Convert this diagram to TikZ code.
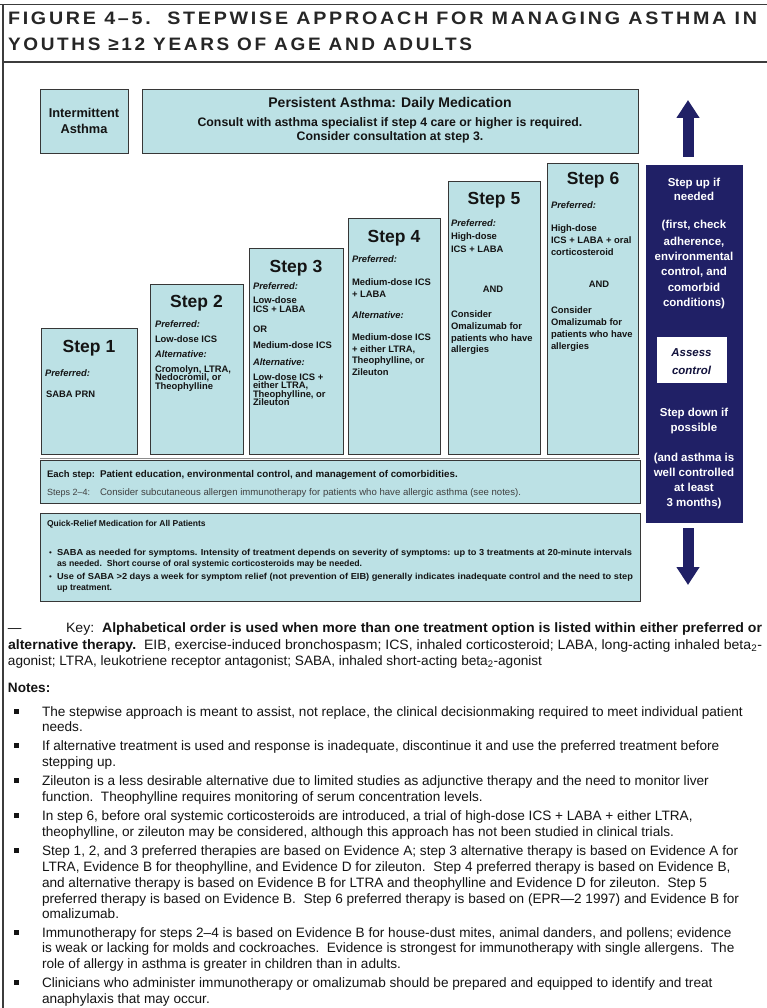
\documentclass[tikz,border=0pt]{standalone}
\usepackage{fontspec}
\setmainfont{Liberation Sans}
\newfontfamily\titlefont[LetterSpace=14]{Liberation Sans}
\usepackage{graphicx}
\usetikzlibrary{arrows.meta}
\definecolor{boxblue}{RGB}{188,225,229}
\definecolor{navyblue}{RGB}{32,32,102}
\definecolor{edgegray}{RGB}{55,55,55}
\definecolor{ink}{RGB}{20,20,20}
\definecolor{rulegray}{RGB}{60,60,60}
\newcommand{\fitto}[2]{\resizebox{#1}{\height}{#2}}
\begin{document}
\begin{tikzpicture}[x=1pt,y=-1pt,
  panel/.style={draw=edgegray, fill=boxblue, line width=0.9pt, inner sep=0pt, outer sep=0pt, anchor=north west},
  lt/.style={anchor=base west, inner sep=0pt, outer sep=0pt, text=ink},
  ct/.style={anchor=base, inner sep=0pt, outer sep=0pt, text=ink},
  stephead/.style={ct, font=\fontsize{17.5}{20}\selectfont\bfseries},
  pref/.style={lt, font=\fontsize{9.4}{10}\selectfont\bfseries\itshape},
  med/.style={lt, font=\fontsize{9.4}{10}\selectfont\bfseries},
  medc/.style={ct, font=\fontsize{9.4}{10}\selectfont\bfseries},
  side/.style={ct, text=white, font=\fontsize{11.5}{13}\selectfont\bfseries},
  note/.style={lt, font=\fontsize{13.6}{15}\selectfont},
  sq/.style={fill=ink, inner sep=0pt, minimum size=5pt},
  bigarrow/.style={draw=navyblue, line width=11pt, -{Triangle[width=22pt,length=18pt]}}]
\useasboundingbox (0,0) rectangle (767,1008);
\fill[white] (0,0) rectangle (767,1008);
% frame
\draw[rulegray, line width=1.5pt] (0,4.5) -- (767,4.5);
\draw[rulegray, line width=1.5pt] (3,62) -- (767,62);
\draw[rulegray, line width=1.5pt] (3,4.5) -- (3,1008);
% title
\node[lt, text=black!85, font=\titlefont\bfseries\fontsize{18}{20}\selectfont] (title1) at (8,25) {\fitto{749pt}{FIGURE 4–5.\ \ STEPWISE APPROACH FOR MANAGING ASTHMA IN}};
\node[lt, text=black!85, font=\titlefont\bfseries\fontsize{18}{20}\selectfont] (title2) at (8,51) {\fitto{464pt}{YOUTHS ≥12 YEARS OF AGE AND ADULTS}};
% top boxes
\node[panel, minimum width=88pt, minimum height=64pt] (inter) at (40,89) {};
\node[panel, minimum width=496pt, minimum height=64pt] (persist) at (142,89) {};
\node[ct, font=\fontsize{12.8}{14}\selectfont\bfseries] (interA) at (84,118) {Intermittent};
\node[ct, font=\fontsize{12.8}{14}\selectfont\bfseries] (interB) at (84,134) {Asthma};
\node[ct, font=\fontsize{14}{16}\selectfont\bfseries] (persA) at (390,108) {Persistent Asthma: Daily Medication};
\node[ct, font=\fontsize{12.3}{14}\selectfont\bfseries] (persB) at (390,127) {Consult with asthma specialist if step 4 care or higher is required.};
\node[ct, font=\fontsize{12.3}{14}\selectfont\bfseries] (persC) at (390,141) {Consider consultation at step 3.};
% step boxes
\node[panel, minimum width=96pt, minimum height=126pt] (s1) at (41,328) {};
\node[panel, minimum width=93pt, minimum height=170pt] (s2) at (150,284) {};
\node[panel, minimum width=94pt, minimum height=206pt] (s3) at (249,248) {};
\node[panel, minimum width=92pt, minimum height=236pt] (s4) at (348,218) {};
\node[panel, minimum width=92pt, minimum height=273pt] (s5) at (448,181) {};
\node[panel, minimum width=91pt, minimum height=291pt] (s6) at (547,163) {};
\draw[black!45, line width=1pt] (40,458) -- (640,458);
% step 1
\node[stephead] (s1h) at (89,352) {Step 1};
\node[pref] (s1p) at (45,376) {Preferred:};
\node[med] (s1a) at (46,397) {SABA PRN};
% step 2
\node[stephead] (s2h) at (196.5,307) {Step 2};
\node[pref] (s2p) at (155,327.5) {Preferred:};
\node[med] (s2a) at (155,342.5) {Low-dose ICS};
\node[pref] (s2q) at (155,357.5) {Alternative:};
\node[med] (s2b) at (155,372) {Cromolyn, LTRA,};
\node[med] (s2c) at (155,380.5) {Nedocromil, or};
\node[med] (s2d) at (155,389) {Theophylline};
% step 3
\node[stephead] (s3h) at (296,272) {Step 3};
\node[pref] (s3p) at (253,289) {Preferred:};
\node[med] (s3a) at (253,303) {Low-dose};
\node[med] (s3b) at (253,312) {ICS + LABA};
\node[med] (s3c) at (253,332.5) {OR};
\node[med] (s3d) at (253,348.5) {Medium-dose ICS};
\node[pref] (s3q) at (253,365) {Alternative:};
\node[med] (s3e) at (253,380) {Low-dose ICS +};
\node[med] (s3f) at (253,388.5) {either LTRA,};
\node[med] (s3g) at (253,397) {Theophylline, or};
\node[med] (s3i) at (253,405.5) {Zileuton};
% step 4
\node[stephead] (s4h) at (394,242) {Step 4};
\node[pref] (s4p) at (352,262) {Preferred:};
\node[med] (s4a) at (352,285) {Medium-dose ICS};
\node[med] (s4b) at (352,297) {+ LABA};
\node[pref] (s4q) at (352,318.5) {Alternative:};
\node[med] (s4c) at (352,340) {Medium-dose ICS};
\node[med] (s4d) at (352,352) {+ either LTRA,};
\node[med] (s4e) at (352,363.5) {Theophylline, or};
\node[med] (s4f) at (352,375) {Zileuton};
% step 5
\node[stephead] (s5h) at (494,205) {Step 5};
\node[pref] (s5p) at (451,226) {Preferred:};
\node[med] (s5a) at (451,240) {High-dose};
\node[med] (s5b) at (451,252) {ICS + LABA};
\node[medc] (s5c) at (493,292) {AND};
\node[med] (s5d) at (451,317) {Consider};
\node[med] (s5e) at (451,329) {Omalizumab for};
\node[med] (s5f) at (451,341) {patients who have};
\node[med] (s5g) at (451,352.5) {allergies};
% step 6
\node[stephead] (s6h) at (593,185) {Step 6};
\node[pref] (s6p) at (551,209) {Preferred:};
\node[med] (s6a) at (551,232) {High-dose};
\node[med] (s6b) at (551,243.5) {ICS + LABA + oral};
\node[med] (s6c) at (551,255) {corticosteroid};
\node[medc] (s6d) at (599,287) {AND};
\node[med] (s6e) at (551,313.5) {Consider};
\node[med] (s6f) at (551,325) {Omalizumab for};
\node[med] (s6g) at (551,337) {patients who have};
\node[med] (s6i) at (551,349) {allergies};
% each step box
\node[panel, minimum width=600pt, minimum height=43pt] (each) at (40,460) {};
\node[lt, font=\fontsize{9.5}{12}\selectfont\bfseries] (eachA) at (47,477) {Each step:};
\node[lt, font=\fontsize{9.8}{12}\selectfont\bfseries] (eachB) at (100,477) {Patient education, environmental control, and management of comorbidities.};
\node[lt, text=black!75, font=\fontsize{9}{11}\selectfont] (eachC) at (47,495) {Steps 2–4:};
\node[lt, text=black!75, font=\fontsize{9.6}{11}\selectfont] (eachD) at (100,495) {Consider subcutaneous allergen immunotherapy for patients who have allergic asthma (see notes).};
% quick relief box
\node[panel, minimum width=600pt, minimum height=88pt] (quick) at (40,513) {};
\node[lt, font=\fontsize{8.5}{10}\selectfont\bfseries] (qT) at (47,526) {Quick-Relief Medication for All Patients};
\node[lt, font=\fontsize{8}{10}\selectfont] (qb1) at (49,555) {•};
\node[lt, font=\fontsize{8}{10}\selectfont] (qb2) at (49,579) {•};
\node[lt, font=\fontsize{8.7}{10}\selectfont\bfseries] (q1) at (57,555) {\fitto{575pt}{SABA as needed for symptoms. Intensity of treatment depends on severity of symptoms: up to 3 treatments at 20-minute intervals}};
\node[lt, font=\fontsize{8.7}{10}\selectfont\bfseries] (q2) at (57,566) {as needed.\ \ Short course of oral systemic corticosteroids may be needed.};
\node[lt, font=\fontsize{8.7}{10}\selectfont\bfseries] (q3) at (57,579) {\fitto{576pt}{Use of SABA >2 days a week for symptom relief (not prevention of EIB) generally indicates inadequate control and the need to step}};
\node[lt, font=\fontsize{8.7}{10}\selectfont\bfseries] (q4) at (57,590) {up treatment.};
% control panel
\node[fill=navyblue, draw=navyblue, minimum width=96pt, minimum height=357pt, anchor=north west, inner sep=0pt] (ctrl) at (646,165) {};
\node[fill=white, draw=white, minimum width=69pt, minimum height=45pt, anchor=north west, inner sep=0pt] (assess) at (657,337) {};
\coordinate (upfoot) at (688,157);
\coordinate (uptip) at (688,100);
\coordinate (dnfoot) at (688,528);
\coordinate (dntip) at (688,585);
\draw[bigarrow] (upfoot) -- (uptip);
\draw[bigarrow] (dnfoot) -- (dntip);
\node[side] (c1) at (694,187) {Step up if};
\node[side] (c2) at (694,201) {needed};
\node[side] (c3) at (694,229) {(first, check};
\node[side] (c4) at (694,245) {adherence,};
\node[side] (c5) at (694,260) {environmental};
\node[side] (c6) at (694,275) {control, and};
\node[side] (c7) at (694,291) {comorbid};
\node[side] (c8) at (694,306) {conditions)};
\node[ct, text=navyblue!60!black, font=\fontsize{11.5}{13}\selectfont\bfseries\itshape] (a1) at (691.5,356) {Assess};
\node[ct, text=navyblue!60!black, font=\fontsize{11.5}{13}\selectfont\bfseries\itshape] (a2) at (691.5,374) {control};
\node[side] (d1) at (694,416) {Step down if};
\node[side] (d2) at (694,431) {possible};
\node[side] (d3) at (694,461) {(and asthma is};
\node[side] (d4) at (694,476) {well controlled};
\node[side] (d5) at (694,491) {at least};
\node[side] (d6) at (694,506) {3 months)};
% key
\node[note] (k0) at (8,632) {—};
\node[note] (k1) at (66,632) {\fitto{696pt}{Key:\ \ \textbf{Alphabetical order is used when more than one treatment option is listed within either preferred or}}};
\node[note] (k2) at (8,649) {\fitto{754pt}{\textbf{alternative therapy.}\ \ EIB, exercise-induced bronchospasm; ICS, inhaled corticosteroid; LABA, long-acting inhaled beta\textsubscript{2}-}};
\node[note] (k3) at (8,665) {agonist; LTRA, leukotriene receptor antagonist; SABA, inhaled short-acting beta\textsubscript{2}-agonist};
% notes
\node[note, font=\fontsize{13.6}{15}\selectfont\bfseries] (nh) at (8,692) {Notes:};
\node[sq] (q1s) at (16,711.5) {};
\node[note] (n1a) at (42,716) {The stepwise approach is meant to assist, not replace, the clinical decisionmaking required to meet individual patient};
\node[note] (n1b) at (42,731) {needs.};
\node[sq] (q2s) at (16,745.5) {};
\node[note] (n2a) at (42,750) {If alternative treatment is used and response is inadequate, discontinue it and use the preferred treatment before};
\node[note] (n2b) at (42,766) {stepping up.};
\node[sq] (q3s) at (16,780.5) {};
\node[note] (n3a) at (42,785) {Zileuton is a less desirable alternative due to limited studies as adjunctive therapy and the need to monitor liver};
\node[note] (n3b) at (42,801) {function.\ \ Theophylline requires monitoring of serum concentration levels.};
\node[sq] (q4s) at (16,815.5) {};
\node[note] (n4a) at (42,820) {In step 6, before oral systemic corticosteroids are introduced, a trial of high-dose ICS + LABA + either LTRA,};
\node[note] (n4b) at (42,836) {theophylline, or zileuton may be considered, although this approach has not been studied in clinical trials.};
\node[sq] (q5s) at (16,850.5) {};
\node[note] (n5a) at (42,855) {Step 1, 2, and 3 preferred therapies are based on Evidence A; step 3 alternative therapy is based on Evidence A for};
\node[note] (n5b) at (42,871) {LTRA, Evidence B for theophylline, and Evidence D for zileuton.\ \ Step 4 preferred therapy is based on Evidence B,};
\node[note] (n5c) at (42,887) {and alternative therapy is based on Evidence B for LTRA and theophylline and Evidence D for zileuton.\ \ Step 5};
\node[note] (n5d) at (42,903) {preferred therapy is based on Evidence B.\ \ Step 6 preferred therapy is based on (EPR—2 1997) and Evidence B for};
\node[note] (n5e) at (42,918) {omalizumab.};
\node[sq] (q6s) at (16,932.5) {};
\node[note] (n6a) at (42,937) {Immunotherapy for steps 2–4 is based on Evidence B for house-dust mites, animal danders, and pollens; evidence};
\node[note] (n6b) at (42,952) {is weak or lacking for molds and cockroaches.\ \ Evidence is strongest for immunotherapy with single allergens.\ \ The};
\node[note] (n6c) at (42,968) {role of allergy in asthma is greater in children than in adults.};
\node[sq] (q7s) at (16,982.5) {};
\node[note] (n7a) at (42,987) {Clinicians who administer immunotherapy or omalizumab should be prepared and equipped to identify and treat};
\node[note] (n7b) at (42,1003) {anaphylaxis that may occur.};
\end{tikzpicture}
\end{document}
